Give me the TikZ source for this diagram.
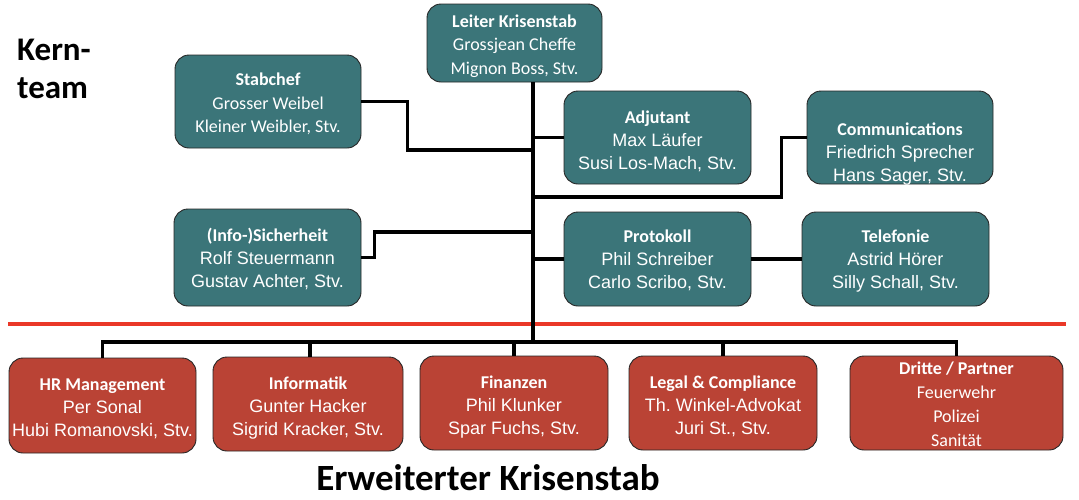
\documentclass[tikz,border=0pt]{standalone}
\usepackage{fontspec}
\setmainfont{Liberation Sans}
\newfontfamily\carl{Carlito}
\newfontfamily\lib{Liberation Sans}
\definecolor{teal1}{RGB}{59,117,121}
\definecolor{red1}{RGB}{186,67,53}
\definecolor{redline}{RGB}{234,56,40}
\frenchspacing
\begin{document}
\begin{tikzpicture}[x=1pt,y=-1pt,
  box/.style={draw=black!85, line width=0.9pt, rounded corners=14pt, inner sep=0pt,
    minimum width=#1},
  box/.default=187pt,
  teal box/.style={box=#1, fill=teal1, minimum height=93pt},
  teal box/.default=187pt,
  red box/.style={box=#1, fill=red1, minimum height=94pt},
  red box/.default=187pt,
  txt/.style={anchor=base, text=white, align=center, inner sep=0pt},
  lib/.style={txt, font=\lib\fontsize{18}{23}\selectfont},
  carl/.style={txt, font=\carl\fontsize{18}{23.5}\selectfont},
  conn/.style={line width=3.2pt, line join=miter},
]
\useasboundingbox (0,0) rectangle (1079,499);

% Kern team
\node[font=\carl\bfseries\fontsize{33}{38}\selectfont, align=left, anchor=base west, inner sep=0pt] (kern) at (17,98) {Kern-\\team};

% boxes
\node[teal box=175pt, minimum height=78pt] (leiter) at (514.5,43) {};
\node[teal box=186pt] (stab) at (268,101.5) {};
\node[teal box] (adj) at (657.5,137.5) {};
\node[teal box=186pt] (comm) at (900,137.5) {};
\node[teal box, minimum height=97pt] (info) at (267.5,257.5) {};
\node[teal box, minimum height=94pt] (prot) at (657.5,259) {};
\node[teal box, minimum height=94pt] (tel) at (895.5,259) {};
\node[red box, minimum height=95pt] (hr) at (102.5,405.5) {};
\node[red box=190pt] (inf) at (308,404) {};
\node[red box=188pt] (fin) at (514,403) {};
\node[red box=188pt] (legal) at (723,403) {};
\node[red box=213pt] (dritte) at (956.5,403) {};

% box texts (anchor = baseline of the last line)
\node[carl] (leiter-t) at (leiter.center |- 0,74)
  {\textbf{Leiter Krisenstab}\\Grossjean Cheffe\\Mignon Boss, Stv.};
\node[carl] (stab-t) at (stab.center |- 0,132.5)
  {\textbf{Stabchef}\\Grosser Weibel\\Kleiner Weibler, Stv.};
\node[lib] (adj-t) at (adj.center |- 0,169)
  {{\carl\bfseries Adjutant}\\Max Läufer\\Susi Los-Mach, Stv.};
\node[lib] (comm-t) at (comm.center |- 0,181)
  {{\carl\bfseries Communications}\\Friedrich Sprecher\\Hans Sager, Stv.};
\node[lib] (info-t) at (info.center |- 0,287.5)
  {{\carl\bfseries (Info-)Sicherheit}\\Rolf Steuermann\\Gustav Achter, Stv.};
\node[lib] (prot-t) at (prot.center |- 0,288)
  {{\carl\bfseries Protokoll}\\Phil Schreiber\\Carlo Scribo, Stv.};
\node[lib] (tel-t) at (tel.center |- 0,288)
  {{\carl\bfseries Telefonie}\\Astrid Hörer\\Silly Schall, Stv.};
\node[lib] (hr-t) at (hr.center |- 0,436)
  {{\carl\bfseries HR Management}\\Per Sonal\\Hubi Romanovski, Stv.};
\node[lib] (inf-t) at (inf.center |- 0,435)
  {{\carl\bfseries Informatik}\\Gunter Hacker\\Sigrid Kracker, Stv.};
\node[lib] (fin-t) at (fin.center |- 0,434)
  {{\carl\bfseries Finanzen}\\Phil Klunker\\Spar Fuchs, Stv.};
\node[lib] (legal-t) at (legal.center |- 0,434)
  {{\carl\bfseries Legal \& Compliance}\\Th. Winkel-Advokat\\Juri St., Stv.};
\node[txt, font=\carl\fontsize{18}{24}\selectfont] (dritte-t) at (dritte.center |- 0,446.5)
  {\textbf{Dritte / Partner}\\Feuerwehr\\Polizei\\Sanität};

% title bottom
\node[font=\carl\bfseries\fontsize{37}{40}\selectfont, anchor=base, inner sep=0pt] (erw) at (488,490) {Erweiterter Krisenstab};

% red separator
\coordinate (rl) at (8,324);
\coordinate (rr) at (1066,324);
\draw[redline, line width=4pt] (rl) -- (rr);

% connectors
\coordinate (tx) at (533,0);
\coordinate (bar) at (0,342);
\coordinate (j1) at (533,150);
\coordinate (j2) at (533,197);
\coordinate (j3) at (533,232);
\draw[conn] (leiter.south -| tx) -- (tx |- bar);
\draw[conn] (stab.east) -- ++(46,0) |- (j1);
\draw[conn] (adj.west) -- (adj.west -| tx);
\draw[conn] (comm.west) -- ++(-25,0) |- (j2);
\draw[conn] (info.east) -- ++(13,0) |- (j3);
\draw[conn] (prot.west) -- (prot.west -| tx);
\draw[conn] (prot.east) -- (tel.west);
\draw[conn] (hr.north) -- (hr.north |- bar) -- (dritte.north |- bar) -- (dritte.north);
\draw[conn] ([xshift=2pt]inf.north |- bar) -- ([xshift=2pt]inf.north);
\draw[conn] (fin.north |- bar) -- (fin.north);
\draw[conn] (legal.north |- bar) -- (legal.north);
\end{tikzpicture}
\end{document}
